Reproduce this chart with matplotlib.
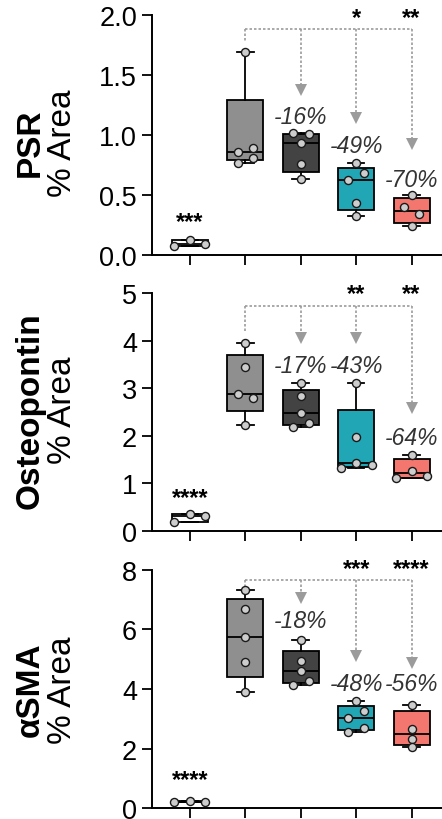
import numpy as np
import matplotlib.pyplot as plt

plt.rcParams['font.family'] = ['Liberation Sans', 'DejaVu Sans']

groups = [0, 1, 2, 3, 4]
box_colors = ['white', '#8f8f8f', '#434343', '#20a6b5', '#f4776f']

# individual animal values per group (left-to-right order inside a row)
psr = [[0.072, 0.125, 0.094],
       [1.694, 0.856, 0.89, 0.767, 0.81],
       [1.014, 1.008, 0.93, 0.758, 0.633],
       [0.765, 0.628, 0.68, 0.433, 0.322],
       [0.5, 0.397, 0.342, 0.244]]
opn = [[0.19, 0.35, 0.30],
       [3.95, 3.44, 2.88, 2.79, 2.23],
       [3.11, 2.83, 2.47, 2.18, 2.27],
       [3.11, 1.97, 1.31, 1.42, 1.38],
       [1.6, 1.10, 1.26, 1.15]]
asma = [[0.2, 0.255, 0.2],
        [7.33, 6.68, 5.73, 4.91, 3.89],
        [5.65, 4.93, 4.59, 4.14, 4.28],
        [3.61, 3.03, 3.27, 2.57, 2.68],
        [3.47, 2.66, 2.32, 2.04]]

psr_pct = ['-16%', '-49%', '-70%']
psr_pct_y = [1.15, 0.91, 0.633]
opn_pct = ['-17%', '-43%', '-64%']
opn_pct_y = [3.47, 3.47, 1.97]
asma_pct = ['-18%', '-48%', '-56%']
asma_pct_y = [6.29, 4.2, 4.2]

psr_stars = ['***', '', '', '*', '**']
opn_stars = ['****', '', '', '**', '**']
asma_stars = ['****', '', '', '***', '****']

psr_ticks = [0, 0.5, 1.0, 1.5, 2.0]
psr_ticklabels = ['0.0', '0.5', '1.0', '1.5', '2.0']
opn_ticks = [0, 1, 2, 3, 4, 5]
asma_ticks = [0, 2, 4, 6, 8]

W, H = 442, 820
fig = plt.figure(figsize=(W / 100, H / 100), dpi=100)


def swarm_x(ax, pos, vals, bin_px=8, step_px=15.5):
    tr = ax.transData.transform
    ys = np.array([tr((0, v))[1] for v in vals])
    xpx = tr((1, 0))[0] - tr((0, 0))[0]
    order = np.argsort(ys, kind='stable')
    bins = []
    for i in order:
        if bins and ys[i] - ys[bins[-1][0]] < bin_px:
            bins[-1].append(i)
        else:
            bins.append([i])
    xs = np.zeros(len(vals))
    for b in bins:
        b = sorted(b)
        n = len(b)
        for k, i in enumerate(b):
            xs[i] = pos + (k - (n - 1) / 2) * step_px / xpx
    return xs


def panel(top, bot, data, ticks, ticklabels, ymax, name, name_y,
          pct, pct_y, stars, star0_y, star_y, br_y, ctrl_end, arrow_y):
    ax = fig.add_axes([152 / W, 1 - bot / H, (W - 152) / W, (bot - top) / H])
    ax.set_xlim(-0.686, 4.55)
    ax.set_ylim(0, ymax)

    stats = []
    for vals in data:
        q1, med, q3 = np.percentile(vals, [25, 50, 75], method='weibull')
        stats.append(dict(med=med, q1=q1, q3=q3, whislo=min(vals),
                          whishi=max(vals), fliers=[]))
    bp = ax.bxp(stats, positions=groups, widths=0.65, patch_artist=True,
                showfliers=False, capwidths=0.3, manage_ticks=False,
                boxprops=dict(linewidth=1.3, edgecolor='black'),
                medianprops=dict(color='black', linewidth=1.3),
                whiskerprops=dict(color='black', linewidth=1.3),
                capprops=dict(color='black', linewidth=1.3))
    for patch, c in zip(bp['boxes'], box_colors):
        patch.set_facecolor(c)

    for g, vals in zip(groups, data):
        xs = swarm_x(ax, g, vals)
        ax.plot(xs, vals, 'o', ms=5.8, mfc='#cdcdcd', mec='#1a1a1a',
                mew=1.0, clip_on=False, zorder=5)

    # comparison bracket
    grey = '#9b9b9b'
    ax.plot([1, 4], [br_y, br_y], color=grey, lw=1.2, ls=(0, (1.5, 1.2)),
            clip_on=False)
    ax.plot([1, 1], [br_y, ctrl_end], color=grey, lw=1.2, ls=(0, (1.5, 1.2)),
            clip_on=False)
    for g, ya in zip(groups[2:], arrow_y):
        ax.plot([g, g], [br_y, ya], color=grey, lw=1.2, ls=(0, (1.5, 1.2)),
                clip_on=False)
        ax.plot(g, ya, 'v', ms=8, color=grey, mew=0, clip_on=False)

    for g, t, ty in zip(groups[2:], pct, pct_y):
        ax.text(g, ty, t, ha='center', va='center', fontsize=16.5,
                style='italic', color='#333333')

    for g, s in zip(groups, stars):
        if s:
            yy = star0_y if g == 0 else star_y
            ax.text(g, yy, s, ha='center', va='center', fontsize=17,
                    fontweight='bold')

    ax.set_yticks(ticks)
    ax.set_yticklabels(ticklabels)
    ax.set_xticks(groups)
    ax.set_xticklabels([])
    ax.tick_params(direction='out', length=7.2, width=1.3, labelsize=19.5,
                   pad=3.6)
    for s in ['top', 'right']:
        ax.spines[s].set_visible(False)
    for s in ['left', 'bottom']:
        ax.spines[s].set_linewidth(1.4)

    ax.text(-0.42, name_y, name, transform=ax.transAxes, rotation=90,
            ha='center', va='center', fontsize=24, fontweight='bold')
    ax.text(-0.31, name_y, '% Area', transform=ax.transAxes, rotation=90,
            ha='center', va='center', fontsize=24)
    return ax


panel(16, 256, psr, psr_ticks, psr_ticklabels, 2.0, 'PSR', 0.47,
      psr_pct, psr_pct_y, psr_stars, 0.278, 1.98, 1.883, 1.78,
      [1.375, 1.144, 0.928])
panel(294, 531.7, opn, opn_ticks, [str(t) for t in opn_ticks], 5,
      'Osteopontin', 0.51, opn_pct, opn_pct_y, opn_stars, 0.70, 4.98,
      4.72, 4.19, [4.05, 4.05, 2.58])
panel(570.7, 809.3, asma, asma_ticks, [str(t) for t in asma_ticks], 8,
      'αSMA', 0.5, asma_pct, asma_pct_y, asma_stars, 0.96, 8.05,
      7.66, 7.46, [7.05, 5.09, 4.87])

fig.savefig('out.png', dpi=100)
